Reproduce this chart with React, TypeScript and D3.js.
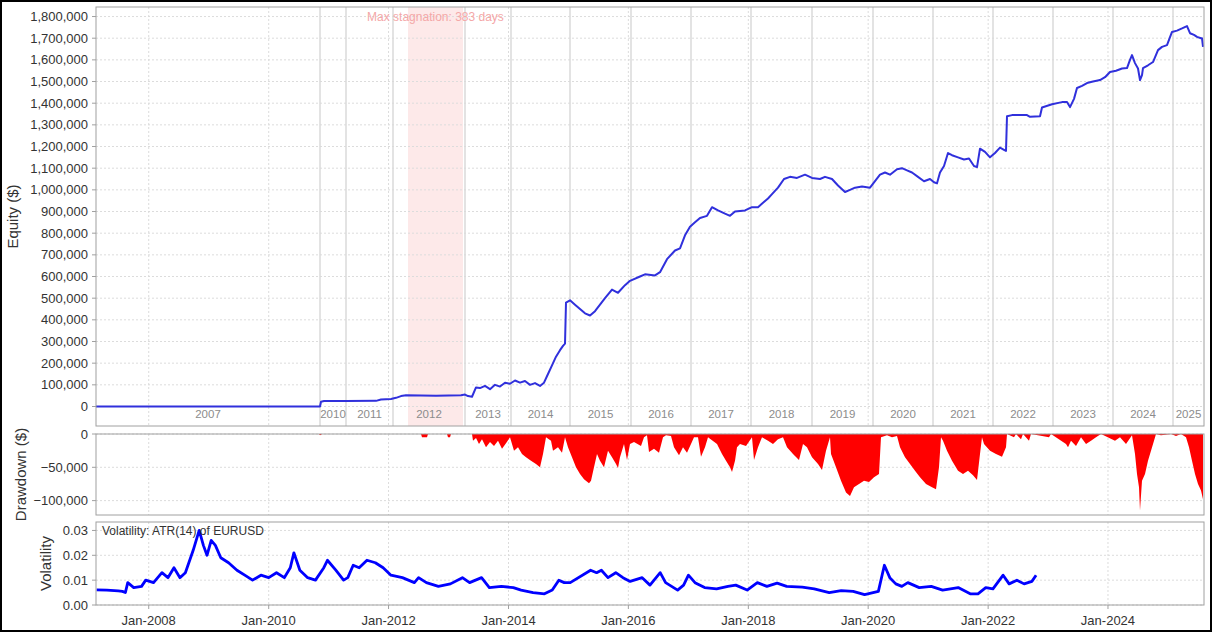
import React from 'react';
import * as d3 from 'd3';

const W = 1212;
const H = 632;

// ---------- tick definitions ----------
const equityYTicks = d3.range(0, 1800001, 100000);
const ddYTicks = [0, -50000, -100000];
const volYTicks = [0, 0.01, 0.02, 0.03];
const dateTickYears = [2008, 2010, 2012, 2014, 2016, 2018, 2020, 2022, 2024];

// ---------- equity panel year bands (in trade-number units) ----------
const yearLabels = ['2007', '2010', '2011', '2012', '2013', '2014', '2015', '2016', '2017', '2018', '2019', '2020', '2021', '2022', '2023', '2024', '2025'];
const yearStarts = [0, 224, 250, 297, 369, 415, 474, 535, 595, 655, 716, 777, 837, 897, 957, 1017, 1077];
const tradeEnd = 1108;
const stagnationStart = 312;
const stagnationEnd = 367;
const stagnationLabel = 'Max stagnation: 383 days';

// ---------- equity (trade number, equity in $ thousands) ----------
const equityTrade = [0, 224, 225, 228, 250, 280, 285, 295, 300, 305, 310, 340, 365, 369, 372, 376, 380, 384, 389, 394, 399, 404, 409, 414, 419, 424, 429, 434, 439, 444, 448, 452, 456, 460, 464, 467, 469, 470, 474, 479, 484, 489, 494, 499, 504, 509, 516, 522, 529, 534, 544, 549, 559, 564, 571, 579, 584, 589, 594, 599, 604, 611, 616, 622, 629, 634, 639, 649, 656, 662, 667, 672, 676, 682, 688, 694, 701, 709, 716, 724, 729, 736, 742, 749, 754, 759, 766, 774, 779, 784, 789, 794, 801, 806, 811, 816, 822, 828, 834, 838, 841, 844, 848, 852, 856, 862, 868, 873, 878, 881, 884, 889, 894, 899, 904, 908, 910, 911, 916, 931, 934, 944, 946, 956, 966, 971, 974, 978, 981, 986, 991, 997, 1004, 1009, 1014, 1020, 1026, 1031, 1034, 1036, 1039, 1042, 1044, 1046, 1047, 1052, 1057, 1062, 1066, 1071, 1076, 1081, 1086, 1091, 1094, 1098, 1101, 1105, 1106, 1107];
const equityK = [0, 0, 22, 25, 25, 26, 32, 35, 40, 48, 52, 50, 52, 55, 48, 45, 88, 85, 95, 80, 100, 92, 110, 105, 120, 110, 118, 100, 108, 95, 110, 150, 190, 230, 260, 280, 290, 480, 490, 470, 450, 430, 420, 440, 470, 500, 540, 525, 560, 580, 600, 610, 605, 620, 680, 720, 730, 790, 830, 850, 870, 880, 920, 905, 890, 880, 900, 905, 920, 920, 940, 960, 980, 1010, 1050, 1060, 1055, 1070, 1055, 1050, 1060, 1050, 1020, 990, 1000, 1010, 1015, 1010, 1040, 1070, 1080, 1070, 1095, 1100, 1090, 1080, 1060, 1040, 1050, 1035, 1030, 1080, 1110, 1170, 1160, 1150, 1140, 1145, 1110, 1105, 1190, 1175, 1150, 1170, 1195, 1185, 1180, 1340, 1345, 1345, 1337, 1340, 1380, 1395, 1405, 1405, 1382, 1420, 1470, 1480, 1493, 1500, 1507, 1520, 1544, 1550, 1560, 1562, 1600, 1622, 1585, 1560, 1507, 1530, 1562, 1575, 1590, 1645, 1660, 1668, 1729, 1735, 1745, 1756, 1723, 1715, 1706, 1700, 1700, 1660];

// ---------- drawdown (trade number, drawdown in $ thousands) ----------
const ddTrade = [0, 223, 224, 226, 325, 326, 331, 332, 351, 352, 354, 355, 376, 377, 380, 383, 386, 390, 394, 398, 402, 406, 410, 414, 418, 422, 426, 430, 435, 440, 444, 447, 450, 455, 457, 462, 466, 469, 472, 476, 480, 484, 488, 493, 495, 498, 501, 504, 508, 512, 516, 520, 522, 524, 528, 531, 534, 538, 545, 548, 551, 553, 558, 563, 567, 570, 575, 578, 583, 587, 591, 595, 598, 602, 605, 609, 612, 621, 626, 630, 634, 636, 639, 641, 644, 650, 656, 658, 662, 666, 672, 677, 682, 687, 691, 697, 703, 707, 711, 716, 722, 726, 730, 734, 735, 740, 745, 750, 754, 758, 763, 768, 773, 778, 783, 785, 791, 796, 801, 804, 809, 814, 819, 824, 830, 836, 840, 843, 845, 847, 851, 856, 862, 867, 872, 877, 881, 884, 886, 888, 894, 900, 906, 910, 911, 918, 920, 925, 927, 933, 935, 953, 955, 970, 972, 975, 980, 985, 990, 995, 1000, 1005, 1019, 1024, 1030, 1036, 1039, 1041, 1043, 1044, 1046, 1049, 1052, 1055, 1058, 1060, 1065, 1075, 1080, 1085, 1090, 1093, 1096, 1099, 1102, 1105, 1107];
const ddK = [0, 0, -2, 0, 0, -5, -5, 0, 0, -5, -5, 0, 0, -10, -6, -15, -8, -20, -12, -18, -10, -22, -14, -5, -25, -20, -30, -35, -40, -45, -50, -30, -5, -10, -25, -20, -28, -5, -20, -35, -50, -60, -68, -74, -70, -50, -30, -40, -50, -25, -35, -45, -51, -35, -15, -39, -15, -12, -18, -5, -2, -27, -22, -28, -5, -2, -3, -20, -32, -20, -28, -15, -5, -5, -34, -20, -5, -15, -30, -40, -50, -57, -40, -20, -15, -18, -5, -39, -20, -5, -10, -15, -8, -5, -20, -30, -39, -15, -20, -35, -45, -54, -25, -5, -30, -50, -70, -88, -93, -80, -75, -70, -72, -65, -60, -5, -2, -5, -3, -20, -35, -45, -55, -65, -75, -80, -83, -50, -5, -10, -25, -40, -55, -60, -55, -62, -69, -30, -5, -15, -25, -30, -34, -20, 0, -5, 0, -8, 0, -10, 0, -5, 0, -15, -20, -10, -18, -5, -15, -10, -5, 0, -10, -5, -15, -2, -30, -60, -80, -115, -70, -60, -40, -25, -10, 0, -2, 0, -3, 0, -5, -20, -40, -60, -75, -85, -98];

// ---------- volatility ATR(14) of EURUSD (decimal year, value) ----------
const volYear = [2007.13, 2007.3, 2007.49, 2007.56, 2007.61, 2007.65, 2007.75, 2007.88, 2007.95, 2008.08, 2008.22, 2008.32, 2008.42, 2008.52, 2008.61, 2008.74, 2008.84, 2008.91, 2008.97, 2009.04, 2009.11, 2009.2, 2009.33, 2009.47, 2009.6, 2009.73, 2009.87, 2010.0, 2010.13, 2010.26, 2010.36, 2010.42, 2010.52, 2010.65, 2010.78, 2010.92, 2010.98, 2011.12, 2011.25, 2011.32, 2011.41, 2011.51, 2011.64, 2011.78, 2011.91, 2012.04, 2012.23, 2012.43, 2012.5, 2012.63, 2012.83, 2013.03, 2013.23, 2013.35, 2013.55, 2013.68, 2013.88, 2014.08, 2014.21, 2014.41, 2014.6, 2014.73, 2014.84, 2014.93, 2015.03, 2015.37, 2015.47, 2015.55, 2015.66, 2015.79, 2015.91, 2016.03, 2016.23, 2016.36, 2016.53, 2016.62, 2016.82, 2016.92, 2017.0, 2017.11, 2017.27, 2017.47, 2017.66, 2017.79, 2017.98, 2018.15, 2018.31, 2018.48, 2018.64, 2018.9, 2019.1, 2019.35, 2019.55, 2019.75, 2019.94, 2020.17, 2020.27, 2020.36, 2020.46, 2020.56, 2020.66, 2020.85, 2021.05, 2021.24, 2021.5, 2021.7, 2021.83, 2021.96, 2022.08, 2022.25, 2022.35, 2022.48, 2022.6, 2022.73, 2022.8];
const volValue = [0.0061, 0.006, 0.0057, 0.0055, 0.005, 0.009, 0.007, 0.0075, 0.01, 0.009, 0.013, 0.011, 0.015, 0.011, 0.013, 0.022, 0.03, 0.024, 0.02, 0.026, 0.024, 0.019, 0.017, 0.014, 0.012, 0.01, 0.012, 0.011, 0.013, 0.011, 0.015, 0.021, 0.014, 0.011, 0.01, 0.015, 0.018, 0.014, 0.01, 0.011, 0.016, 0.015, 0.018, 0.017, 0.015, 0.012, 0.011, 0.009, 0.011, 0.009, 0.0075, 0.0085, 0.011, 0.009, 0.011, 0.007, 0.0075, 0.007, 0.006, 0.005, 0.0045, 0.006, 0.01, 0.009, 0.009, 0.014, 0.013, 0.014, 0.011, 0.013, 0.011, 0.0095, 0.011, 0.008, 0.013, 0.009, 0.006, 0.008, 0.012, 0.009, 0.007, 0.0065, 0.0075, 0.008, 0.006, 0.009, 0.0075, 0.0088, 0.0075, 0.0072, 0.0065, 0.005, 0.0058, 0.0055, 0.0042, 0.0055, 0.016, 0.011, 0.0085, 0.0075, 0.009, 0.007, 0.0075, 0.006, 0.007, 0.0045, 0.0045, 0.007, 0.0065, 0.012, 0.0085, 0.01, 0.0085, 0.0095, 0.012];
const volLegend = 'Volatility: ATR(14) of EURUSD';

// ---------- layout ----------
const PL = 96;
const PR = 1204;
const EQ = { top: 7, bottom: 426 };
const DD = { top: 434, bottom: 515 };
const VO = { top: 522, bottom: 605 };

const FONT = '"Liberation Sans", Arial, sans-serif';

const decToDate = (y: number) => {
  const yr = Math.floor(y);
  const start = Date.UTC(yr, 0, 1);
  const end = Date.UTC(yr + 1, 0, 1);
  return new Date(start + (y - yr) * (end - start));
};

const fmtInt = d3.format(',');
const fmtVol = d3.format('.2f');

export default function App() {
  const xTrade = d3.scaleLinear().domain([0, tradeEnd]).range([PL, PR]);
  const xDate = d3.scaleUtc().domain([decToDate(2007.12), decToDate(2025.6)]).range([PL, PR]);
  const yEq = d3.scaleLinear().domain([-90000, 1844000]).range([EQ.bottom, EQ.top]);
  const yDd = d3.scaleLinear().domain([-121600, 0]).range([DD.bottom, DD.top]);
  const yVo = d3.scaleLinear().domain([0, 0.0334]).range([VO.bottom, VO.top]);

  const eqData = equityTrade.map((t, i) => [t, equityK[i] * 1000] as [number, number]);
  const ddData = ddTrade.map((t, i) => [t, ddK[i] * 1000] as [number, number]);
  const voData = volYear.map((y, i) => [decToDate(y), volValue[i]] as [Date, number]);

  const eqLine = d3.line<[number, number]>().x(d => xTrade(d[0])).y(d => yEq(d[1]))(eqData) || '';
  const ddArea = d3.area<[number, number]>().x(d => xTrade(d[0])).y0(yDd(0)).y1(d => yDd(d[1]))(ddData) || '';
  const voLine = d3.line<[Date, number]>().x(d => xDate(d[0])).y(d => yVo(d[1]))(voData) || '';

  const dateTicks = dateTickYears.map(y => decToDate(y));
  const gridColor = '#dcdcdc';
  const frameColor = '#a0a0a0';
  const labelColor = '#333';

  const panels = [EQ, DD, VO];

  return (
    <svg width={W} height={H} style={{ position: 'absolute', left: 0, top: 0, background: '#fff' }} fontFamily={FONT}>
      <rect x={0} y={0} width={W} height={H} fill="#fff" />

      {/* stagnation band */}
      <rect x={xTrade(stagnationStart)} y={EQ.top} width={xTrade(stagnationEnd) - xTrade(stagnationStart)} height={EQ.bottom - EQ.top} fill="#fde9e9" />

      {/* horizontal grids */}
      {equityYTicks.map(v => (
        <line key={'eg' + v} x1={PL} x2={PR} y1={yEq(v)} y2={yEq(v)} stroke={gridColor} strokeDasharray="2,2" />
      ))}
      {ddYTicks.map(v => (
        <line key={'dg' + v} x1={PL} x2={PR} y1={yDd(v)} y2={yDd(v)} stroke={gridColor} strokeDasharray="2,2" />
      ))}
      {volYTicks.map(v => (
        <line key={'vg' + v} x1={PL} x2={PR} y1={yVo(v)} y2={yVo(v)} stroke={gridColor} strokeDasharray="2,2" />
      ))}

      {/* vertical date grids in all panels */}
      {panels.map((p, pi) =>
        dateTicks.map((d, i) => (
          <line key={'vdg' + pi + '-' + i} x1={xDate(d)} x2={xDate(d)} y1={p.top} y2={p.bottom} stroke={gridColor} strokeDasharray="2,2" />
        ))
      )}

      {/* year separators */}
      {yearStarts.slice(1).map((t, i) => (
        <line key={'ys' + i} x1={xTrade(t)} x2={xTrade(t)} y1={EQ.top} y2={EQ.bottom} stroke="#dadada" strokeWidth={1.5} />
      ))}

      {/* year labels */}
      {yearLabels.map((lab, i) => {
        const s = yearStarts[i];
        const e = i + 1 < yearStarts.length ? yearStarts[i + 1] : tradeEnd;
        return (
          <text key={'yl' + i} x={(xTrade(s) + xTrade(e)) / 2} y={EQ.bottom - 8} fontSize={11.5} fill="#8c8c8c" textAnchor="middle">{lab}</text>
        );
      })}

      <text x={(xTrade(stagnationStart) + xTrade(stagnationEnd)) / 2} y={21} fontSize={12} fill="#f4a7a7" textAnchor="middle">{stagnationLabel}</text>

      {/* series */}
      <path d={ddArea} fill="#ff0000" stroke="none" />
      <path d={eqLine} fill="none" stroke="#3030dc" strokeWidth={2} strokeLinejoin="round" />
      <path d={voLine} fill="none" stroke="#0000ff" strokeWidth={2.8} strokeLinejoin="round" />

      <text x={PL + 6} y={VO.top + 13} fontSize={12} fill={labelColor}>{volLegend}</text>

      {/* frames */}
      {panels.map((p, i) => (
        <rect key={'fr' + i} x={PL} y={p.top} width={PR - PL} height={p.bottom - p.top} fill="none" stroke={frameColor} strokeWidth={1} />
      ))}

      {/* y-axis ticks & labels */}
      {equityYTicks.map(v => (
        <g key={'et' + v}>
          <line x1={PL - 4} x2={PL} y1={yEq(v)} y2={yEq(v)} stroke={frameColor} />
          <text x={PL - 8} y={yEq(v) + 4.5} fontSize={13} fill={labelColor} textAnchor="end">{fmtInt(v)}</text>
        </g>
      ))}
      {ddYTicks.map(v => (
        <g key={'dt' + v}>
          <line x1={PL - 4} x2={PL} y1={yDd(v)} y2={yDd(v)} stroke={frameColor} />
          <text x={PL - 8} y={yDd(v) + 4.5} fontSize={13} fill={labelColor} textAnchor="end">{fmtInt(v)}</text>
        </g>
      ))}
      {volYTicks.map(v => (
        <g key={'vt' + v}>
          <line x1={PL - 4} x2={PL} y1={yVo(v)} y2={yVo(v)} stroke={frameColor} />
          <text x={PL - 8} y={yVo(v) + 4.5} fontSize={13} fill={labelColor} textAnchor="end">{fmtVol(v)}</text>
        </g>
      ))}

      {/* x-axis (dates) */}
      {dateTicks.map((d, i) => (
        <g key={'xt' + i}>
          <line x1={xDate(d)} x2={xDate(d)} y1={VO.bottom} y2={VO.bottom + 4} stroke={frameColor} />
          <text x={xDate(d)} y={VO.bottom + 20} fontSize={13} fill={labelColor} textAnchor="middle">{'Jan-' + dateTickYears[i]}</text>
        </g>
      ))}

      {/* axis titles */}
      <text transform={`translate(18, ${(EQ.top + EQ.bottom) / 2}) rotate(-90)`} fontSize={15} fill={labelColor} textAnchor="middle">Equity ($)</text>
      <text transform={`translate(26, ${(DD.top + DD.bottom) / 2}) rotate(-90)`} fontSize={15} fill={labelColor} textAnchor="middle">Drawdown ($)</text>
      <text transform={`translate(51, ${(VO.top + VO.bottom) / 2}) rotate(-90)`} fontSize={15} fill={labelColor} textAnchor="middle">Volatility</text>

      {/* outer border */}
      <rect x={1} y={1} width={W - 2} height={H - 2} fill="none" stroke="#000" strokeWidth={2} />
    </svg>
  );
}
